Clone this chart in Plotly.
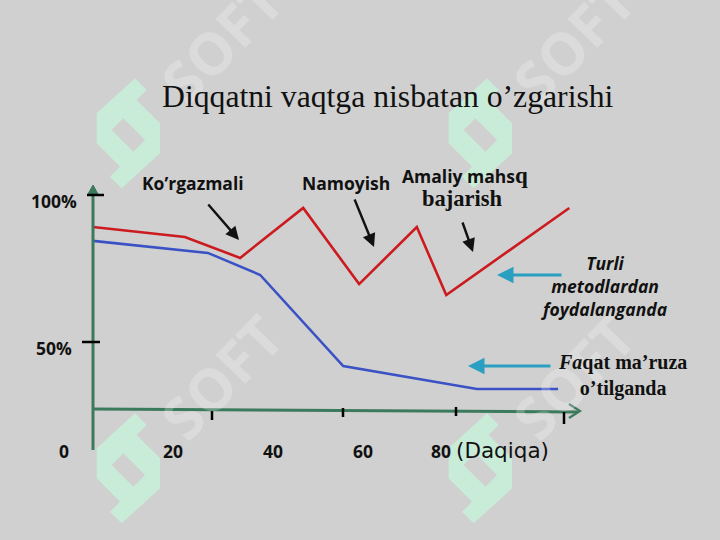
import plotly.graph_objects as go

# ---------------- data ----------------
minutes_red = [0, 15.6, 25.0, 35.7, 45.2, 55.0, 60.0, 80.9]
attention_red = [89.1, 85.7, 78.6, 95.6, 69.7, 89.1, 66.0, 95.6]
minutes_blue = [0, 19.5, 28.4, 42.5, 65.2, 79.0]
attention_blue = [84.4, 80.3, 72.8, 41.8, 34.0, 34.0]

y_tick_values = [100, 50]
y_tick_labels = ["100%", "50%"]
x_tick_labels = ["0", "20", "40", "60", "80"]
x_unit_label = "(Daqiqa)"
title_text = "Diqqatni vaqtga nisbatan o’zgarishi"
label_red = "<b><i>Turli<br>metodlardan<br>foydalanganda</i></b>"
label_blue = "<b><i>Fa</i>qat ma’ruza<br>o’tilganda</b>"

# ---------------- geometry of the slide ----------------
W, H = 720, 540
X0_PX, PX_PER_MIN = 93.0, 5.8875
Y0_PX, PX_PER_PCT = 489.0, 2.94


def dx(px):
    return (px - X0_PX) / PX_PER_MIN


def dy(py):
    return (Y0_PX - py) / PX_PER_PCT


def px_(px):
    return px / W


def py_(py):
    return 1 - py / H


BG = "#d0d0d0"
AXIS_GREEN = "#3b7a5c"
RED = "#cc1b1f"
BLUE = "#3a52c6"
CYAN = "#2a9fc2"
SANS = "Open Sans"
SERIF = "Liberation Serif"
LBL = 17.5

fig = go.Figure()

fig.add_trace(go.Scatter(x=minutes_red, y=attention_red, mode="lines",
                         line=dict(color=RED, width=2.6), cliponaxis=False,
                         hoverinfo="skip", showlegend=False))
fig.add_trace(go.Scatter(x=minutes_blue, y=attention_blue, mode="lines",
                         line=dict(color=BLUE, width=2.6), cliponaxis=False,
                         hoverinfo="skip", showlegend=False))

shapes = []

# ---- watermark logos (mint ring with a diamond hole) ----
logo_outer = [(135, 25), (170, 60), (140, 90), (210, 160), (210, 250),
              (95, 355), (60, 320), (90, 290), (20, 220), (20, 130)]
logo_hole = [(65, 180), (130, 245), (165, 210), (100, 145)]


def sub(poly, ox, oy):
    pts = [(90 + X / 3 + ox, 70 + Y / 3 + oy) for X, Y in poly]
    return "M " + " L ".join(f"{px_(a):.4f},{py_(b):.4f}" for a, b in pts) + " Z"


for ox, oy in [(0, 0), (352, 0), (0, 335), (352, 335)]:
    shapes.append(dict(type="path", xref="paper", yref="paper",
                       path=sub(logo_outer, ox, oy) + " " + sub(logo_hole, ox, oy),
                       fillcolor="#c9ecd9", line=dict(width=0), layer="below"))

# ---- axes ----
shapes.append(dict(type="line", xref="x", yref="y", x0=0, x1=0,
                   y0=dy(450), y1=dy(189), line=dict(color=AXIS_GREEN, width=3)))
shapes.append(dict(type="path", xref="x", yref="y",
                   path=f"M {dx(88)},{dy(194)} L {dx(93)},{dy(185)} L {dx(98)},{dy(194)} Z",
                   fillcolor=AXIS_GREEN, line=dict(color=AXIS_GREEN, width=1)))
shapes.append(dict(type="line", xref="x", yref="y", x0=0, x1=dx(578),
                   y0=dy(409), y1=dy(412), line=dict(color=AXIS_GREEN, width=3)))
shapes.append(dict(type="path", xref="x", yref="y",
                   path=f"M {dx(569)},{dy(404)} L {dx(580)},{dy(411)} L {dx(569)},{dy(418)}",
                   line=dict(color=AXIS_GREEN, width=2.2)))

# ---- tick marks ----
shapes.append(dict(type="line", xref="x", yref="y", x0=dx(87), x1=dx(104),
                   y0=y_tick_values[0], y1=y_tick_values[0], line=dict(color="black", width=2.5)))
shapes.append(dict(type="line", xref="x", yref="y", x0=dx(82), x1=dx(100),
                   y0=y_tick_values[1], y1=y_tick_values[1], line=dict(color="black", width=2.5)))
for tx, t0, t1 in [(212, 411, 420), (343, 408, 417), (456, 407, 416), (564, 412, 424)]:
    shapes.append(dict(type="line", xref="x", yref="y", x0=dx(tx), x1=dx(tx),
                       y0=dy(t0), y1=dy(t1), line=dict(color="black", width=2.5)))

annotations = []

# ---- watermark text ----
for cx, cy in [(221, 40), (573, 40), (221, 376), (573, 376)]:
    annotations.append(dict(xref="paper", yref="paper", x=px_(cx), y=py_(cy),
                            text="<b>SOFT</b>", showarrow=False, textangle=-46,
                            font=dict(family=SANS, size=58, color="rgba(255,255,255,0.24)"),
                            xanchor="center", yanchor="middle"))

# ---- title ----
annotations.append(dict(xref="paper", yref="paper", x=px_(388), y=py_(97),
                        text=title_text, showarrow=False,
                        font=dict(family=SERIF, size=31.7, color="#111111"),
                        xanchor="center", yanchor="middle"))

# ---- y tick labels ----
for val, lab, cx in zip(y_tick_values, y_tick_labels, [54, 53.5]):
    annotations.append(dict(xref="x", yref="y", x=dx(cx), y=val, yshift=-6,
                            text=f"<b>{lab}</b>", showarrow=False,
                            font=dict(family=SANS, size=LBL, color="#111111"),
                            xanchor="center", yanchor="middle"))

# ---- x tick labels ----
for lab, cx in zip(x_tick_labels, [64, 173, 273, 363, 440.5]):
    annotations.append(dict(xref="x", yref="y", x=dx(cx), y=dy(451),
                            text=f"<b>{lab}</b>", showarrow=False,
                            font=dict(family=SANS, size=LBL, color="#111111"),
                            xanchor="center", yanchor="middle"))
annotations.append(dict(xref="x", yref="y", x=dx(502), y=dy(450),
                        text=x_unit_label, showarrow=False,
                        font=dict(family="DejaVu Sans", size=21.5, color="#111111"),
                        xanchor="center", yanchor="middle"))

# ---- method labels ----
annotations.append(dict(xref="x", yref="y", x=dx(192.5), y=dy(183),
                        text="<b>Ko’rgazmali</b>", showarrow=False,
                        font=dict(family=SANS, size=LBL, color="#111111"),
                        xanchor="center", yanchor="middle"))
annotations.append(dict(xref="x", yref="y", x=dx(346), y=dy(183),
                        text="<b>Namoyish</b>", showarrow=False,
                        font=dict(family=SANS, size=LBL, color="#111111"),
                        xanchor="center", yanchor="middle"))
annotations.append(dict(xref="x", yref="y", x=dx(465), y=dy(175),
                        text="<b>Amaliy mahs</b><span style='font-family:Liberation Serif;font-size:23px'><b>q</b></span>",
                        showarrow=False,
                        font=dict(family=SANS, size=LBL, color="#111111"),
                        xanchor="center", yanchor="middle"))
annotations.append(dict(xref="x", yref="y", x=dx(462), y=dy(198),
                        text="<b>bajarish</b>", showarrow=False,
                        font=dict(family=SERIF, size=22.5, color="#111111"),
                        xanchor="center", yanchor="middle"))

annotations.append(dict(xref="x", yref="y", x=dx(604), y=dy(286),
                        text=label_red, showarrow=False, align="center",
                        font=dict(family=SANS, size=17.5, color="#111111"),
                        xanchor="center", yanchor="middle"))
annotations.append(dict(xref="x", yref="y", x=dx(622), y=dy(375),
                        text=label_blue, showarrow=False, align="center",
                        font=dict(family=SERIF, size=20, color="#111111"),
                        xanchor="center", yanchor="middle"))

# ---- arrows ----
def arrow(head, tail, color, width):
    hx, hy = head
    tx, ty = tail
    annotations.append(dict(xref="x", yref="y", x=dx(hx), y=dy(hy),
                            ax=tx - hx, ay=ty - hy, text="", showarrow=True,
                            arrowhead=2, arrowsize=1.1, arrowwidth=width,
                            arrowcolor=color))

arrow((239, 240), (207, 203), "#111111", 2.4)
arrow((374, 247), (354, 198), "#111111", 2.4)
arrow((473, 252), (462, 221), "#111111", 2.4)
arrow((497, 275), (563, 275), CYAN, 3)
arrow((468, 366), (552, 366), CYAN, 3)

fig.update_layout(
    width=W, height=H, autosize=False,
    margin=dict(l=0, r=0, t=0, b=0, pad=0),
    paper_bgcolor=BG, plot_bgcolor=BG,
    xaxis=dict(range=[dx(0), dx(W)], visible=False, fixedrange=True),
    yaxis=dict(range=[dy(H), dy(0)], visible=False, fixedrange=True),
    shapes=shapes, annotations=annotations, showlegend=False,
)

fig.write_html(
    "out.html",
    config={"displayModeBar": False},
    post_script="document.body.style.margin='0';document.body.style.overflow='hidden';",
)
